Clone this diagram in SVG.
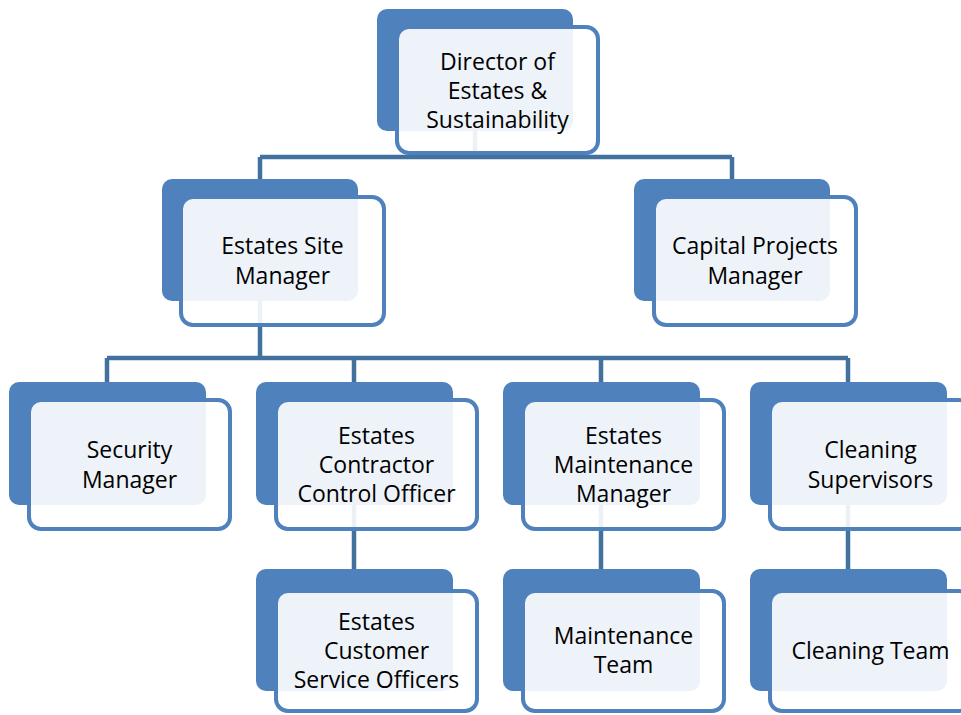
<svg xmlns="http://www.w3.org/2000/svg" width="961" height="715" viewBox="0 0 961 715">
<style>
.back{fill:#4F81BD;}
.front{fill:#FFFFFF;fill-opacity:0.9;stroke:#4F81BD;stroke-width:4;}
.conn{stroke:#41719C;stroke-width:4.5;fill:none;}
text{font-family:"Open Sans","Liberation Sans",sans-serif;font-size:23px;fill:#000;text-anchor:middle;}
</style>
<rect width="961" height="715" fill="#FFFFFF"/>
<g id="connectors">
<path class="conn" d="M475 131 V157 M260 157 H732 M260 157 V179 M732 157 V179"/>
<path class="conn" d="M260 301 V358 M107 358 H848 M107 358 V382 M354 358 V382 M601 358 V382 M848 358 V382"/>
<path class="conn" d="M354 505 V569 M601 505 V569 M848 505 V569"/>
</g>
<g id="director">
<rect class="back" x="377" y="9" width="196" height="122" rx="10"/>
<rect class="front" x="397" y="27" width="201" height="126" rx="12"/>
<text x="497.5" y="70">Director of</text>
<text x="497.5" y="99">Estates &amp;</text>
<text x="497.5" y="128">Sustainability</text>
</g>
<g id="estates-site-manager">
<rect class="back" x="162" y="179" width="196" height="122" rx="10"/>
<rect class="front" x="181" y="197" width="203" height="128" rx="12"/>
<text x="282.5" y="254">Estates Site</text>
<text x="282.5" y="284">Manager</text>
</g>
<g id="capital-projects-manager">
<rect class="back" x="634" y="179" width="196" height="122" rx="10"/>
<rect class="front" x="654" y="197" width="202" height="128" rx="12"/>
<text x="755" y="254">Capital Projects</text>
<text x="755" y="284">Manager</text>
</g>
<g id="security-manager">
<rect class="back" x="9" y="382" width="197" height="123" rx="10"/>
<rect class="front" x="29" y="400" width="201" height="129" rx="12"/>
<text x="129.5" y="458">Security</text>
<text x="129.5" y="488">Manager</text>
</g>
<g id="estates-contractor-control-officer">
<rect class="back" x="256" y="382" width="197" height="123" rx="10"/>
<rect class="front" x="276" y="400" width="201" height="129" rx="12"/>
<text x="376.5" y="444">Estates</text>
<text x="376.5" y="473">Contractor</text>
<text x="376.5" y="502">Control Officer</text>
</g>
<g id="estates-maintenance-manager">
<rect class="back" x="503" y="382" width="197" height="123" rx="10"/>
<rect class="front" x="523" y="400" width="201" height="129" rx="12"/>
<text x="623.5" y="444">Estates</text>
<text x="623.5" y="473">Maintenance</text>
<text x="623.5" y="502">Manager</text>
</g>
<g id="cleaning-supervisors">
<rect class="back" x="750" y="382" width="197" height="123" rx="10"/>
<rect class="front" x="770" y="400" width="201" height="129" rx="12"/>
<text x="870.5" y="458">Cleaning</text>
<text x="870.5" y="488">Supervisors</text>
</g>
<g id="estates-customer-service-officers">
<rect class="back" x="256" y="569" width="197" height="122" rx="10"/>
<rect class="front" x="276" y="591" width="201" height="120" rx="12"/>
<text x="376.5" y="630">Estates</text>
<text x="376.5" y="659">Customer</text>
<text x="376.5" y="688">Service Officers</text>
</g>
<g id="maintenance-team">
<rect class="back" x="503" y="569" width="197" height="122" rx="10"/>
<rect class="front" x="523" y="591" width="201" height="120" rx="12"/>
<text x="623.5" y="644">Maintenance</text>
<text x="623.5" y="673">Team</text>
</g>
<g id="cleaning-team">
<rect class="back" x="750" y="569" width="197" height="122" rx="10"/>
<rect class="front" x="770" y="591" width="201" height="120" rx="12"/>
<text x="870.5" y="659">Cleaning Team</text>
</g>
</svg>
